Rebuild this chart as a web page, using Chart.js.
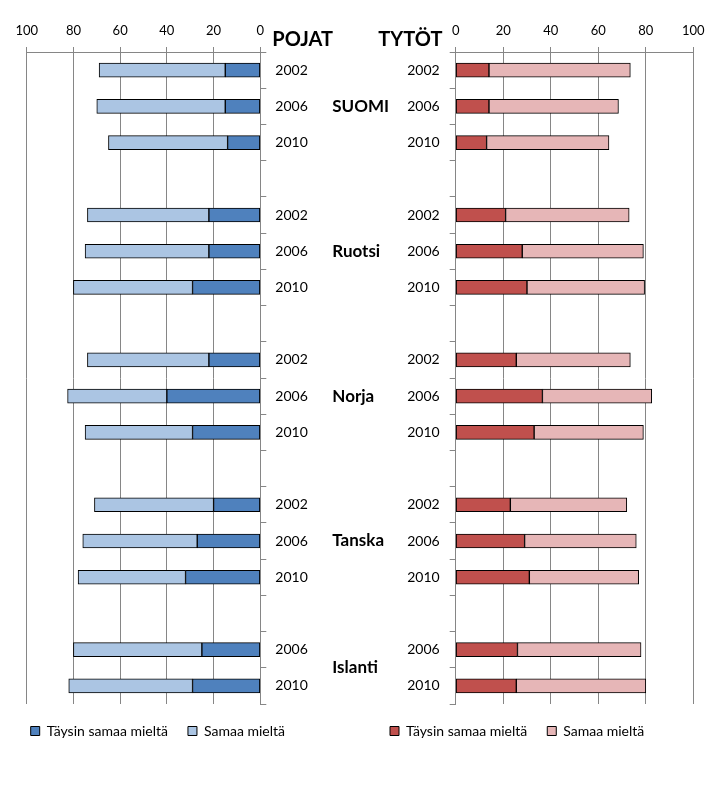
<!DOCTYPE html>
<html>
<head>
<meta charset="utf-8">
<script src="https://cdn.jsdelivr.net/npm/chart.js@4"></script>
<style>
  body { margin: 0; background: #fff; }
  #wrap { position: relative; width: 720px; height: 799px; }
  #boxPojat { position: absolute; left: 0; top: 0; width: 460px; height: 760px; }
  #boxTytot { position: absolute; left: 360px; top: 0; width: 360px; height: 760px; }
</style>
</head>
<body>
<div id="wrap">
  <div id="boxPojat"><canvas id="pojat"></canvas></div>
  <div id="boxTytot"><canvas id="tytot"></canvas></div>
</div>
<script>
// rivit ylhäältä alas, tyhjä rivi maiden välissä
const vuodet = ['2002', '2006', '2010', '', '2002', '2006', '2010', '', '2002', '2006', '2010', '', '2002', '2006', '2010', '', '2006', '2010'];
const maat = ['SUOMI', 'Ruotsi', 'Norja', 'Tanska', 'Islanti'];

const pojatTaysin = [15, 15, 14, null, 22, 22, 29, null, 22, 40, 29, null, 20, 27, 32, null, 25, 29];
const pojatSamaa = [54, 55, 51, null, 52, 53, 51, null, 52, 42.5, 46, null, 51, 49, 46, null, 55, 53];
const tytotTaysin = [14, 14, 13, null, 21, 28, 30, null, 25.5, 36.5, 33, null, 23, 29, 31, null, 26, 25.5];
const tytotSamaa = [59.5, 54.5, 51.5, null, 52, 51, 49.5, null, 48, 46, 46, null, 49, 47, 46, null, 52, 54.5];

const fontti = 'Lato, "Liberation Sans", sans-serif';
const harmaa = '#868686';

// maiden nimet keskelle + otsikot
const keskiTekstit = {
    id: 'keskiTekstit',
    afterDraw(chart) {
        const ctx = chart.ctx;
        const y = chart.scales.y;
        const area = chart.chartArea;
        ctx.save();
        ctx.fillStyle = '#000';
        ctx.textBaseline = 'middle';
        ctx.textAlign = 'left';
        ctx.font = 'bold 20px ' + fontti;
        ctx.fillText('POJAT', area.right + 12, 40);
        ctx.fillText('TYTÖT', area.right + 118, 40);

        ctx.font = 'bold 17px ' + fontti;
        let alku = 0;
        let m = 0;
        for (let i = 0; i <= vuodet.length; i++) {
            if (i == vuodet.length || vuodet[i] == '') {
                const yy = (y.getPixelForValue(alku) + y.getPixelForValue(i - 1)) / 2;
                ctx.fillText(maat[m], area.right + 72, yy);
                m = m + 1;
                alku = i + 1;
            }
        }
        ctx.restore();
    }
};

var teeKaavio = (id, taysin, samaa, varit, vasen) => {
    const data = {
        labels: vuodet,
        datasets: [
            {
                label: 'Täysin samaa mieltä',
                data: taysin,
                backgroundColor: varit[0],
                borderColor: '#000',
                borderWidth: 1,
                borderSkipped: false,
                barThickness: 14,
            },
            {
                label: 'Samaa mieltä',
                data: samaa,
                backgroundColor: varit[1],
                borderColor: '#000',
                borderWidth: 1,
                borderSkipped: false,
                barThickness: 14,
            },
        ],
    };

    const config = {
        type: 'bar',
        data: data,
        options: {
            indexAxis: 'y',
            responsive: true,
            maintainAspectRatio: false,
            animation: false,
            layout: {
                padding: vasen ? { left: 10.7, right: 0, top: 0, bottom: 12 } : { left: 10, right: 26.7, top: 0, bottom: 12 },
            },
            scales: {
                x: {
                    position: 'top',
                    reverse: vasen,
                    stacked: true,
                    min: 0,
                    max: 100,
                    ticks: { stepSize: 20, padding: 8, color: '#000', font: { family: fontti, size: 13 } },
                    grid: { color: harmaa, tickLength: 5 },
                    border: { color: harmaa },
                    afterFit: (s) => {
                        s.height = 52;
                        if (vasen) s.paddingLeft = 26.7;
                    },
                },
                y: {
                    position: vasen ? 'right' : 'left',
                    stacked: true,
                    ticks: { padding: vasen ? 9 : 10, color: '#000', font: { family: fontti, size: 14 } },
                    grid: { drawOnChartArea: false, color: harmaa, tickLength: 6, offset: true },
                    border: { color: harmaa },
                    afterFit: (s) => {
                        s.width = vasen ? 460 - 260.3 : 85.7;
                    },
                },
            },
            plugins: {
                tooltip: { enabled: false },
                legend: {
                    position: 'bottom',
                    align: 'start',
                    labels: {
                        boxWidth: 9,
                        boxHeight: 9,
                        padding: 20,
                        color: '#000',
                        font: { family: fontti, size: 14 },
                    },
                },
            },
        },
        plugins: vasen ? [keskiTekstit] : [],
    };
    return new Chart(document.getElementById(id), config);
};

teeKaavio('pojat', pojatTaysin, pojatSamaa, ['#4f81bd', '#abc5e3'], true);
teeKaavio('tytot', tytotTaysin, tytotSamaa, ['#c0504d', '#e6b6b7'], false);
</script>
</body>
</html>
